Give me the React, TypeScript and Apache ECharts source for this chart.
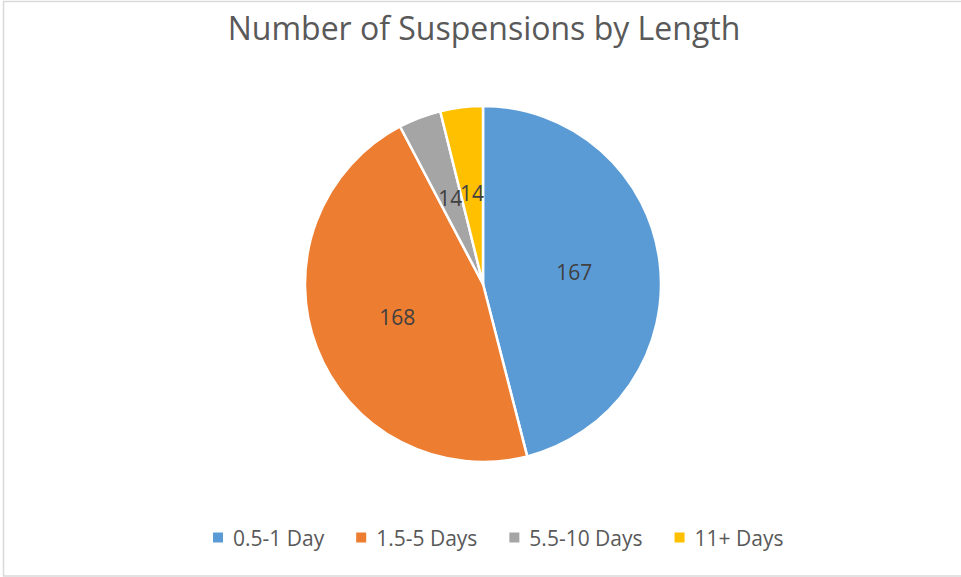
import React, { useEffect, useRef } from "react";
import * as echarts from "echarts";

const categories = ["0.5-1 Day", "1.5-5 Days", "5.5-10 Days", "11+ Days"];
const values = [167, 168, 14, 14];
const colors = ["#5B9BD5", "#ED7D31", "#A5A5A5", "#FFC000"];
const titleText = "Number of Suspensions by Length";

export default function App() {
  const ref = useRef<HTMLDivElement>(null);
  useEffect(() => {
    const chart = echarts.init(ref.current!, null, { renderer: "svg" });
    chart.setOption({
      animation: false,
      backgroundColor: "#ffffff",
      title: {
        text: titleText,
        left: 479,
        textAlign: "center",
        top: 6,
        textStyle: { fontFamily: "Open Sans", fontSize: 32, fontWeight: "normal", color: "#595959" },
      },
      legend: {
        bottom: 24,
        left: 206,
        padding: 5,
        itemWidth: 12,
        itemHeight: 12,
        itemGap: 30,
        icon: "rect",
        textStyle: { fontFamily: "Open Sans", fontSize: 21, color: "#595959", padding: [0, 0, 0, 4] },
        data: categories,
      },
      graphic: [
        {
          type: "rect",
          shape: { x: 3.5, y: 1.5, width: 965, height: 574.5 },
          style: { fill: "none", stroke: "#d9d9d9", lineWidth: 1.5 },
          silent: true,
        },
      ],
      series: [
        {
          type: "pie",
          center: [483, 284],
          radius: [0, 178],
          startAngle: 90,
          clockwise: true,
          avoidLabelOverlap: false,
          labelLayout: { hideOverlap: false },
          itemStyle: { borderColor: "#ffffff", borderWidth: 2.5 },
          label: {
            show: true,
            position: "inside",
            formatter: "{c}",
            fontFamily: "Open Sans",
            fontSize: 21,
            color: "#404040",
          },
          labelLine: { show: false },
          emphasis: { disabled: true },
          data: categories.map((name, i) => ({
            name,
            value: values[i],
            itemStyle: { color: colors[i] },
          })),
        },
      ],
    });
    return () => chart.dispose();
  }, []);
  return (
    <div
      ref={ref}
      style={{ position: "fixed", left: 0, top: 0, width: 961, height: 577 }}
    />
  );
}
